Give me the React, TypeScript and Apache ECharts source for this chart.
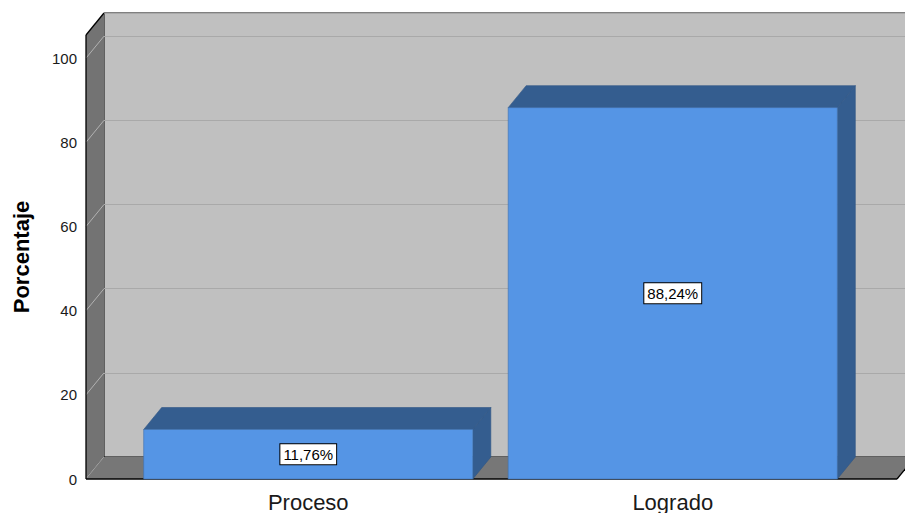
import React, { useEffect, useRef } from "react";
import * as echarts from "echarts";

const CATEGORIES = ["Proceso", "Logrado"];
const PERCENT = [11.76, 88.24];
const Y_TICKS = [0, 20, 40, 60, 80, 100];
const Y_MAX = 105.5;
const Y_TITLE = "Porcentaje";

const DX = 18;
const DY = 22;
const BAR_RATIO = 0.903;
const FRONT = "#5595e5";
const DARK = "#345d8f";
const FONT = "'Liberation Sans', Arial, sans-serif";

const fmt = (v: number) => v.toFixed(2).replace(".", ",") + "%";

export default function App() {
  const ref = useRef<HTMLDivElement>(null);
  useEffect(() => {
    const chart = echarts.init(ref.current!, null, { renderer: "svg" });
    chart.setOption({
      animation: false,
      textStyle: { fontFamily: FONT },
      grid: [
        { left: 126, right: 50, top: 35, bottom: 34, outerBoundsMode: "none" },
        {
          left: 104,
          width: 811,
          top: 13,
          bottom: 56,
          outerBoundsMode: "none",
          show: true,
          backgroundColor: "#c0c0c0",
          borderColor: "#000",
          borderWidth: 1,
        },
      ],
      xAxis: [
        {
          type: "category",
          gridIndex: 0,
          data: CATEGORIES,
          axisLine: { show: false },
          axisTick: { show: false },
          splitLine: { show: false },
          axisLabel: { fontSize: 22, color: "#1a1a1a", margin: 12, fontFamily: FONT },
        },
        { type: "value", gridIndex: 1, min: 0, max: 1, show: false },
      ],
      yAxis: [
        {
          type: "value",
          gridIndex: 0,
          min: 0,
          max: Y_MAX,
          interval: 20,
          axisLine: { show: false },
          axisTick: { show: false },
          splitLine: { show: false },
          axisLabel: {
            fontSize: 15,
            color: "#1a1a1a",
            margin: 49,
            showMaxLabel: false,
            fontFamily: FONT,
            padding: [4, 0, 0, 0],
            formatter: (v: number) => (Y_TICKS.includes(v) ? String(v) : ""),
          },
          name: Y_TITLE,
          nameLocation: "middle",
          nameGap: 94,
          nameTextStyle: { fontSize: 22, fontWeight: "bold", color: "#000", fontFamily: FONT },
        },
        {
          type: "value",
          gridIndex: 1,
          min: 0,
          max: Y_MAX,
          interval: 20,
          axisLine: { show: false },
          axisTick: { show: false },
          axisLabel: { show: false },
          splitLine: { show: true, lineStyle: { color: "#a9a9a9", width: 1 } },
        },
      ],
      series: [
        {
          type: "custom",
          xAxisIndex: 1,
          yAxisIndex: 1,
          silent: true,
          clip: false,
          z: 1,
          data: [[0, 0]],
          renderItem: (params: any, api: any) => {
            const cs = params.coordSys;
            const x0 = cs.x;
            const x1 = cs.x + cs.width;
            const y0 = cs.y;
            const y1 = cs.y + cs.height;
            const children: any[] = [];
            children.push({
              type: "polygon",
              shape: { points: [[x0, y0], [x0, y1], [x0 - DX, y1 + DY], [x0 - DX, y0 + DY]] },
              style: { fill: "#737373" },
            });
            Y_TICKS.forEach((t) => {
              const y = api.coord([0, t])[1];
              children.push({
                type: "line",
                shape: { x1: x0, y1: y, x2: x0 - DX, y2: y + DY },
                style: { stroke: "#b2b2b2", lineWidth: 1 },
              });
            });
            children.push({
              type: "polygon",
              shape: { points: [[x0, y1], [x1, y1], [x1 - DX, y1 + DY], [x0 - DX, y1 + DY]] },
              style: { fill: "#777777" },
            });
            const edge = { stroke: "#000", lineWidth: 1.3 };
            children.push({ type: "line", shape: { x1: x0 - DX, y1: y0 + DY, x2: x0 - DX, y2: y1 + DY }, style: edge });
            children.push({ type: "line", shape: { x1: x0 - DX, y1: y0 + DY, x2: x0, y2: y0 }, style: edge });
            children.push({ type: "line", shape: { x1: x0 - DX, y1: y1 + DY, x2: x1 - DX, y2: y1 + DY }, style: edge });
            children.push({ type: "line", shape: { x1: x1 - DX, y1: y1 + DY, x2: x1, y2: y1 }, style: edge });
            return { type: "group", children };
          },
        },
        {
          type: "custom",
          xAxisIndex: 0,
          yAxisIndex: 0,
          clip: false,
          z: 3,
          data: PERCENT.map((v, i) => [i, v]),
          renderItem: (params: any, api: any) => {
            const i = api.value(0);
            const v = api.value(1);
            const [cx, yt] = api.coord([i, v]);
            const yb = api.coord([i, 0])[1];
            const hw = (api.size([1, 0])[0] * BAR_RATIO) / 2;
            const l = cx - hw;
            const r = cx + hw;
            const edge = { stroke: "#2f5685", lineWidth: 0.6 };
            return {
              type: "group",
              children: [
                {
                  type: "polygon",
                  shape: { points: [[r, yt], [r + DX, yt - DY], [r + DX, yb - DY], [r, yb]] },
                  style: { fill: DARK, ...edge },
                },
                {
                  type: "polygon",
                  shape: { points: [[l, yt], [l + DX, yt - DY], [r + DX, yt - DY], [r, yt]] },
                  style: { fill: DARK, ...edge },
                },
                {
                  type: "rect",
                  shape: { x: l, y: yt, width: r - l, height: yb - yt },
                  style: { fill: FRONT, stroke: "#3f70ad", lineWidth: 0.6 },
                },
                {
                  type: "text",
                  x: cx,
                  y: (yt + yb) / 2,
                  style: {
                    text: fmt(v),
                    fontSize: 15,
                    lineHeight: 16,
                    fontFamily: FONT,
                    fill: "#000",
                    align: "center",
                    verticalAlign: "middle",
                    backgroundColor: "#fff",
                    borderColor: "#000",
                    borderWidth: 1,
                    padding: [2, 3],
                  },
                },
              ],
            };
          },
        },
      ],
    });
    return () => chart.dispose();
  }, []);
  return (
    <div
      ref={ref}
      style={{ position: "fixed", left: 0, top: 0, width: 905, height: 513, background: "#fff" }}
    />
  );
}
